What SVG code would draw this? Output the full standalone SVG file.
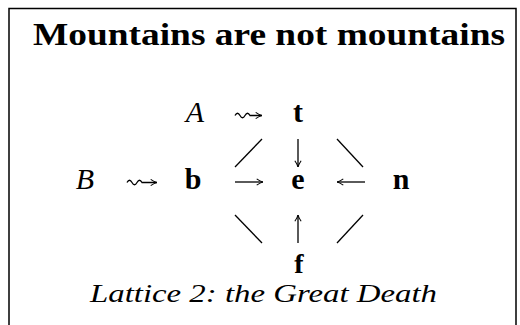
<svg xmlns="http://www.w3.org/2000/svg" width="520" height="325" viewBox="0 0 520 325">
<defs>
<marker id="ah" markerUnits="userSpaceOnUse" viewBox="0 0 10 10" refX="9.5" refY="5" markerWidth="9" markerHeight="9" orient="auto">
<path d="M2.5,1.5 Q6.5,4.3 9.5,5 Q6.5,5.7 2.5,8.5" fill="none" stroke="#000" stroke-width="1.2"/>
</marker>
<style>
.frame{fill:none;stroke:#000;stroke-width:1.5}
.title{font-family:"Liberation Serif",serif;font-weight:bold;font-size:31px;fill:#000}
.cap{font-family:"Liberation Serif",serif;font-style:italic;font-size:26px;fill:#000}
.var{font-family:"Liberation Serif",serif;font-style:italic;font-size:30px;fill:#000;text-anchor:middle}
.el{font-family:"Liberation Serif",serif;font-weight:bold;font-size:30px;fill:#000;text-anchor:middle}
.c{fill:none;stroke:#000;stroke-width:1.3}
.a{marker-end:url(#ah)}
</style>
</defs>
<rect width="520" height="325" fill="#fff"/>
<path class="frame" d="M9,325 V8.5 H516 V325"/>
<text class="title" x="33" y="45" textLength="472" lengthAdjust="spacingAndGlyphs">Mountains are not mountains</text>
<g id="node-A"><text class="var" x="195" y="122">A</text></g>
<g id="node-t"><text class="el" x="298" y="122">t</text></g>
<g id="node-B"><text class="var" x="85" y="189">B</text></g>
<g id="node-b"><text class="el" x="193" y="189">b</text></g>
<g id="node-e"><text class="el" x="298" y="189">e</text></g>
<g id="node-n"><text class="el" x="401" y="189">n</text></g>
<g id="node-f"><text class="el" x="299" y="273" style="font-size:28px">f</text></g>
<g id="connectors">
<path class="c a" d="M235,115.5 q2.5,-4.5 5,0 t5,0 t5,0 L262,115.5"/>
<path class="c a" d="M127,182.5 q2.5,-4.5 5,0 t5,0 t5,0 L157,182.5"/>
<path class="c a" d="M235,182 H263"/>
<path class="c a" d="M365,182 H337"/>
<path class="c a" d="M298,139 V167"/>
<path class="c a" d="M298,243 V215"/>
<path class="c" d="M235,167 L262,139"/>
<path class="c" d="M337,139 L363,167"/>
<path class="c" d="M235,215 L262,243"/>
<path class="c" d="M337,243 L363,215"/>
</g>
<text class="cap" x="90" y="302" textLength="347" lengthAdjust="spacingAndGlyphs">Lattice 2: the Great Death</text>
</svg>
